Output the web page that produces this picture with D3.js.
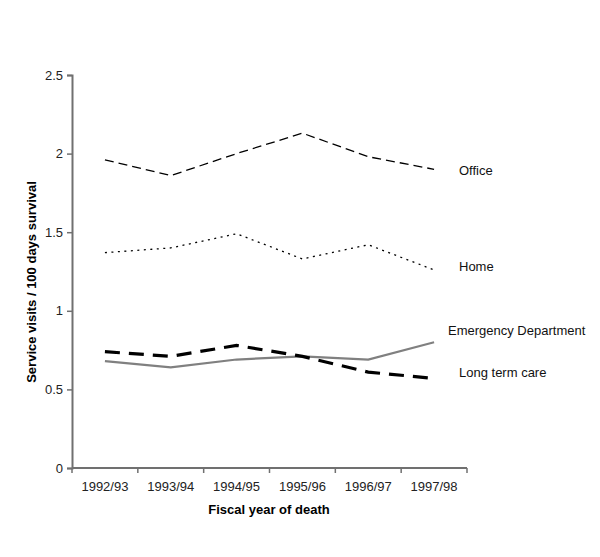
<!DOCTYPE html>
<html><head><meta charset="utf-8">
<script src="https://cdn.jsdelivr.net/npm/d3@7"></script>
<style>body{margin:0;background:#fff}svg{display:block;font-family:"Liberation Sans",Arial,sans-serif}</style>
</head><body><svg id="c" width="600" height="557"></svg>
<script>
const categories = ["1992/93","1993/94","1994/95","1995/96","1996/97","1997/98"];
const office = [1.96,1.86,2.0,2.13,1.98,1.90];
const home = [1.37,1.40,1.49,1.33,1.42,1.26];
const emergency = [0.68,0.64,0.69,0.71,0.69,0.80];
const longTermCare = [0.74,0.71,0.78,0.71,0.61,0.57];
const yTicks = [0,0.5,1,1.5,2,2.5];
const seriesNames = ["Office","Home","Emergency Department","Long term care"];

const svg = d3.select("#c");
const x = d3.scaleBand().domain(categories).range([72,467]);
const y = d3.scaleLinear().domain([0,2.5]).range([468,75]);

const yAxis = svg.append("g").attr("transform","translate(72,0)")
  .call(d3.axisLeft(y).tickValues(yTicks).tickFormat(d=>String(d)).tickSize(5).tickPadding(4));
const xAxis = svg.append("g").attr("transform","translate(0,468)")
  .call(d3.axisBottom(x).tickSize(0).tickPadding(14));
const bounds = categories.map(c=>x(c)).concat([x.range()[1]]);
xAxis.selectAll("line.bt").data(bounds).enter().append("line").attr("class","bt")
  .attr("x1",d=>d).attr("x2",d=>d).attr("y1",0).attr("y2",5);
[yAxis,xAxis].forEach(g=>{
  g.selectAll("path.domain").attr("stroke","#707070").attr("stroke-width",2);
  g.selectAll("line").attr("stroke","#707070").attr("stroke-width",1.5);
  g.selectAll("text").attr("fill","#222").style("font-size","13px");
});
xAxis.select("path.domain").attr("d","M72,0H467");

const line = d3.line().x((d,i)=>x(categories[i])+x.bandwidth()/2).y(d=>y(d));
const styles = [
  {data:office, stroke:"#000", w:1.3, dash:"9,5"},
  {data:home, stroke:"#000", w:1.3, dash:"2,4.5"},
  {data:emergency, stroke:"#808080", w:2.2, dash:null},
  {data:longTermCare, stroke:"#000", w:3.2, dash:"15,9"}
];
styles.forEach(s=>{
  svg.append("path").datum(s.data).attr("d",line).attr("fill","none")
    .attr("stroke",s.stroke).attr("stroke-width",s.w).attr("stroke-dasharray",s.dash);
});

const labelPos = [
  {t:seriesNames[0], x:459, y:175},
  {t:seriesNames[1], x:459, y:271},
  {t:seriesNames[2], x:448, y:335},
  {t:seriesNames[3], x:459, y:377}
];
svg.selectAll("text.lab").data(labelPos).enter().append("text").attr("class","lab")
  .attr("x",d=>d.x).attr("y",d=>d.y).text(d=>d.t).style("font-size","13px").attr("fill","#111");

svg.append("text").attr("x",269).attr("y",514).attr("text-anchor","middle")
  .style("font-size","13px").style("font-weight","bold").text("Fiscal year of death");
svg.append("text").attr("transform","translate(36,282) rotate(-90)").attr("text-anchor","middle")
  .style("font-size","13px").style("font-weight","bold").text("Service visits / 100 days survival");
</script></body></html>
